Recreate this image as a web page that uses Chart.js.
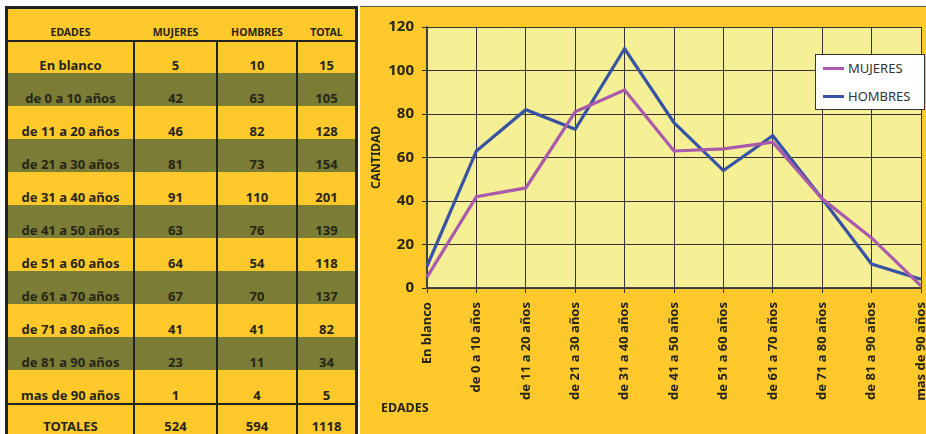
<!DOCTYPE html>
<html>
<head>
<meta charset="utf-8">
<script src="https://cdn.jsdelivr.net/npm/chart.js@4.4.1/dist/chart.umd.min.js"></script>
<style>
  html, body { margin:0; padding:0; background:#fff; overflow:hidden; }
  body { width:926px; height:434px; position:relative; font-family:"Noto Sans", "DejaVu Sans", sans-serif; }
  .abs { position:absolute; }
  .cell { position:absolute; display:flex; align-items:flex-end; justify-content:center; font-weight:bold; font-size:13px; line-height:16px; color:#262617; white-space:nowrap; }
  .hdr { font-size:10.5px; line-height:14px; }
</style>
</head>
<body>
<div id="tbl"></div>
<div class="abs" id="panel" style="left:360px; top:6px; width:566px; height:428px; background:#FFC82B; border-top:1px solid #555;"></div>
<canvas id="c" width="566" height="427" class="abs" style="left:360px; top:7px;"></canvas>
<div class="abs" id="legend" style="left:815px; top:54px; width:108px; height:54px; background:#fff; border:1px solid #333; font-size:13px; color:#333;"></div>
<div class="abs" style="left:381px; top:399px; font-weight:bold; font-size:12.5px; color:#262617;">EDADES</div>
<script>
const categories = ["En blanco","de 0 a 10 años","de 11 a 20 años","de 21 a 30 años","de 31 a 40 años","de 41 a 50 años","de 51 a 60 años","de 61 a 70 años","de 71 a 80 años","de 81 a 90 años","mas de 90 años"];
const mujeres = [5,42,46,81,91,63,64,67,41,23,1];
const hombres = [10,63,82,73,110,76,54,70,41,11,4];
const totales = [15,105,128,154,201,139,118,137,82,34,5];
const sumRow = ["TOTALES", 524, 594, 1118];
const headers = ["EDADES","MUJERES","HOMBRES","TOTAL"];
const yTicks = [0,20,40,60,80,100,120];
const seriesNames = ["MUJERES","HOMBRES"];
const seriesColors = ["#A95AAA","#3853A4"];

// ---- table ----
const tbl = document.getElementById('tbl');
function box(l,t,w,h,bg){ const d=document.createElement('div'); d.className='abs'; d.style.cssText+=`left:${l}px;top:${t}px;width:${w}px;height:${h}px;background:${bg};`; tbl.appendChild(d); return d; }
function cell(l,t,w,h,txt,cls){ const d=document.createElement('div'); d.className='cell'+(cls?' '+cls:''); d.style.cssText+=`left:${l}px;top:${t}px;width:${w}px;height:${h}px;`; d.textContent=txt; tbl.appendChild(d); return d; }
const cols = [[8,125],[135,81],[218,78],[298,57]];
box(5,6,353,428,'#FFC82B');
const rowH = 33;
for (let i=0;i<categories.length;i++){
  const top = 40 + rowH*i;
  box(8, top, 347, rowH, i%2===1 ? '#7B7C36' : '#FFC82B');
}
box(5,6,353,3,'#222'); box(5,6,3,428,'#222'); box(355,6,3,428,'#222');
box(8,40,347,2,'#222'); box(8,403,347,2,'#222');
[133,216,296].forEach(x=>box(x,42,2,392,'#222'));
headers.forEach((h,j)=>cell(cols[j][0],9,cols[j][1],30,h,'hdr'));
for (let i=0;i<categories.length;i++){
  const top = 40 + rowH*i;
  const vals=[categories[i], mujeres[i], hombres[i], totales[i]];
  vals.forEach((v,j)=>cell(cols[j][0], top, cols[j][1], rowH, String(v)));
}
sumRow.forEach((v,j)=>cell(cols[j][0],405,cols[j][1],29,String(v)));

// ---- legend ----
const lg=document.getElementById('legend');
seriesNames.forEach((n,k)=>{
  const y = k===0 ? 13 : 41;
  const ln=document.createElement('div'); ln.className='abs'; ln.style.cssText=`left:7px;top:${y-1.5}px;width:21px;height:3px;background:${seriesColors[k]};`; lg.appendChild(ln);
  const t=document.createElement('div'); t.className='abs'; t.style.cssText=`left:32px;top:${y-9}px;line-height:18px;`; t.textContent=n; lg.appendChild(t);
});

// ---- chart ----
const plotBg = { id:'plotBg', beforeDraw(ch){ const a=ch.chartArea, c=ch.ctx; c.save(); c.fillStyle='#F5F096'; c.fillRect(a.left,a.top,a.right-a.left,a.bottom-a.top); c.restore(); } };
new Chart(document.getElementById('c'), {
  type:'line',
  data:{ labels:categories, datasets:[
    { label:seriesNames[0], data:mujeres, borderColor:seriesColors[0], backgroundColor:seriesColors[0], borderWidth:3.2, pointRadius:0, tension:0 },
    { label:seriesNames[1], data:hombres, borderColor:seriesColors[1], backgroundColor:seriesColors[1], borderWidth:3.2, pointRadius:0, tension:0 }
  ]},
  options:{
    responsive:false, animation:false, devicePixelRatio:1,
    layout:{ padding:{ top:20, right:5, left:0, bottom:0 } },
    plugins:{ legend:{display:false}, tooltip:{enabled:false} },
    scales:{
      x:{ offset:false,
          grid:{ color:'#333', lineWidth:1, tickLength:5 },
          border:{ color:'#444', width:1.5 },
          ticks:{ autoSkip:false, minRotation:90, maxRotation:90, padding:9, color:'#262617', font:{ family:'"Noto Sans"', weight:'bold', size:13 } },
          afterFit(s){ s.height = 146; s.paddingLeft = 0; s.paddingRight = 0; } },
      y:{ min:0, max:120, afterBuildTicks(s){ s.ticks = yTicks.map(v=>({value:v})); },
          grid:{ color:'#333', lineWidth:1, tickLength:5 },
          border:{ color:'#444', width:1.5 },
          ticks:{ padding:8, color:'#262617', font:{ family:'"Noto Sans"', weight:'bold', size:15 } },
          title:{ display:true, text:'CANTIDAD', color:'#262617', padding:{top:9,bottom:4}, font:{ family:'"Noto Sans"', weight:'bold', size:12 } },
          afterFit(s){ s.width = 67; } }
    }
  },
  plugins:[plotBg]
});
</script>
</body>
</html>
